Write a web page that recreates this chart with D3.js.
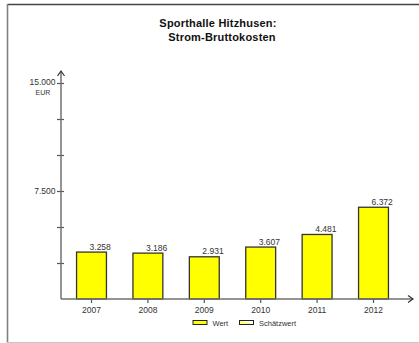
<!DOCTYPE html>
<html>
<head>
<meta charset="utf-8">
<script src="https://cdn.jsdelivr.net/npm/d3@7/dist/d3.min.js"></script>
<style>
  html, body { margin: 0; padding: 0; background: #fff; }
  svg { display: block; font-family: "Liberation Sans", Arial, sans-serif; }
</style>
</head>
<body>
<svg id="chart" width="419" height="343"></svg>
<script>
const years = ["2007", "2008", "2009", "2010", "2011", "2012"];
const values = [3258, 3186, 2931, 3607, 4481, 6372];
const yTickValues = [0, 2500, 5000, 7500, 10000, 12500, 15000];
const yLabelValues = [7500, 15000];
const titleLines = ["Sporthalle Hitzhusen:", "Strom-Bruttokosten"];
const unitLabel = "EUR";
const legendItems = ["Wert", "Schätzwert"];

const svg = d3.select("#chart");
const de = d3.formatLocale({ decimal: ",", thousands: ".", grouping: [3], currency: ["", " €"] });
const fmt = de.format(",d");

// frame
svg.append("line").attr("x1", 7.5).attr("x2", 419).attr("y1", 4.5).attr("y2", 4.5)
  .attr("stroke", "#444").attr("stroke-width", 1.5);
svg.append("line").attr("x1", 7.5).attr("x2", 7.5).attr("y1", 4).attr("y2", 343)
  .attr("stroke", "#808080").attr("stroke-width", 1.6);
svg.append("line").attr("x1", 7).attr("x2", 419).attr("y1", 342.5).attr("y2", 342.5)
  .attr("stroke", "#c8c8c8").attr("stroke-width", 1);

// title
svg.append("text").attr("x", 218).attr("y", 27).attr("text-anchor", "middle")
  .attr("font-size", 11).attr("font-weight", "bold").attr("fill", "#111")
  .attr("letter-spacing", 0.2).text(titleLines[0]);
svg.append("text").attr("x", 222).attr("y", 41).attr("text-anchor", "middle")
  .attr("font-size", 11).attr("font-weight", "bold").attr("fill", "#111")
  .attr("letter-spacing", 0.2).text(titleLines[1]);

const x = d3.scaleBand().domain(years).range([63.3, 401.7]).paddingInner(0.47).paddingOuter(0.235);
const y = d3.scaleLinear().domain([0, 15000]).range([299, 83]);

const axisColor = "#707070";

// bars
svg.append("g").selectAll("rect").data(values).join("rect")
  .attr("x", (d, i) => x(years[i]))
  .attr("y", d => y(d))
  .attr("width", x.bandwidth())
  .attr("height", d => y(0) - y(d))
  .attr("fill", "#ffff00")
  .attr("stroke", "#333")
  .attr("stroke-width", 1.3);

// value labels
svg.append("g").selectAll("text").data(values).join("text")
  .attr("x", (d, i) => x(years[i]) + x.bandwidth() / 2 + 8.7)
  .attr("y", d => y(d) - 2.5)
  .attr("text-anchor", "middle")
  .attr("font-size", 8.5)
  .attr("fill", "#333")
  .text(d => fmt(d));

// y axis
const yAxisG = svg.append("g").attr("transform", "translate(61,0)");
yAxisG.call(d3.axisLeft(y).tickValues(yTickValues).tickSize(0).tickFormat(""));
yAxisG.select(".domain").remove();
yAxisG.append("line").attr("x1", 0).attr("x2", 0).attr("y1", 299).attr("y2", 72)
  .attr("stroke", axisColor).attr("stroke-width", 1.5);
yAxisG.selectAll(".tick").append("line").attr("x1", -4).attr("x2", 3)
  .attr("stroke", "#555").attr("stroke-width", 1.2);
yAxisG.selectAll(".tick").filter(d => d === 0).remove();
yAxisG.append("path").attr("d", "M-3.5,76 L0,71 L3.5,76").attr("fill", "none")
  .attr("stroke", "#333").attr("stroke-width", 1.2);

svg.append("g").selectAll("text").data(yLabelValues).join("text")
  .attr("x", 55.5).attr("y", d => y(d) + (d === 15000 ? 2 : 3))
  .attr("text-anchor", "end").attr("font-size", 8.5).attr("fill", "#333")
  .text(d => fmt(d));
svg.append("text").attr("x", 43).attr("y", 94.5).attr("text-anchor", "middle")
  .attr("font-size", 7).attr("fill", "#333").text(unitLabel);

// x axis
const xAxisG = svg.append("g").attr("transform", "translate(0,299)");
xAxisG.call(d3.axisBottom(x).tickSize(4).tickPadding(4));
xAxisG.select(".domain").remove();
xAxisG.append("line").attr("x1", 61).attr("x2", 413).attr("y1", 0).attr("y2", 0)
  .attr("stroke", axisColor).attr("stroke-width", 1.5);
xAxisG.append("path").attr("d", "M408,-3.5 L413,0 L408,3.5").attr("fill", "none")
  .attr("stroke", "#333").attr("stroke-width", 1.2);
xAxisG.selectAll(".tick line").attr("stroke", "#555").attr("stroke-width", 1.2);
xAxisG.selectAll(".tick text").attr("font-size", 8.5).attr("fill", "#333")
  .attr("font-family", "Liberation Sans, Arial, sans-serif").attr("dy", "0.71em");

// legend
const defs = svg.append("defs");
const grad = defs.append("linearGradient").attr("id", "est").attr("x1", "0").attr("x2", "1").attr("y1", "1").attr("y2", "0");
grad.append("stop").attr("offset", "0").attr("stop-color", "#ffffff");
grad.append("stop").attr("offset", "0.4").attr("stop-color", "#ffff60");
grad.append("stop").attr("offset", "0.6").attr("stop-color", "#ffffff");
const legendX = [193, 239.5];
const legendFill = ["#ffff00", "url(#est)"];
const lg = svg.append("g");
lg.selectAll("rect").data(legendItems).join("rect")
  .attr("x", (d, i) => legendX[i]).attr("y", 320.5).attr("width", 14).attr("height", 4)
  .attr("fill", (d, i) => legendFill[i]).attr("stroke", "#222").attr("stroke-width", 1);
lg.selectAll("text").data(legendItems).join("text")
  .attr("x", (d, i) => legendX[i] + 19.5).attr("y", 326)
  .attr("font-size", 7.5).attr("fill", "#333").text(d => d);
</script>
</body>
</html>
